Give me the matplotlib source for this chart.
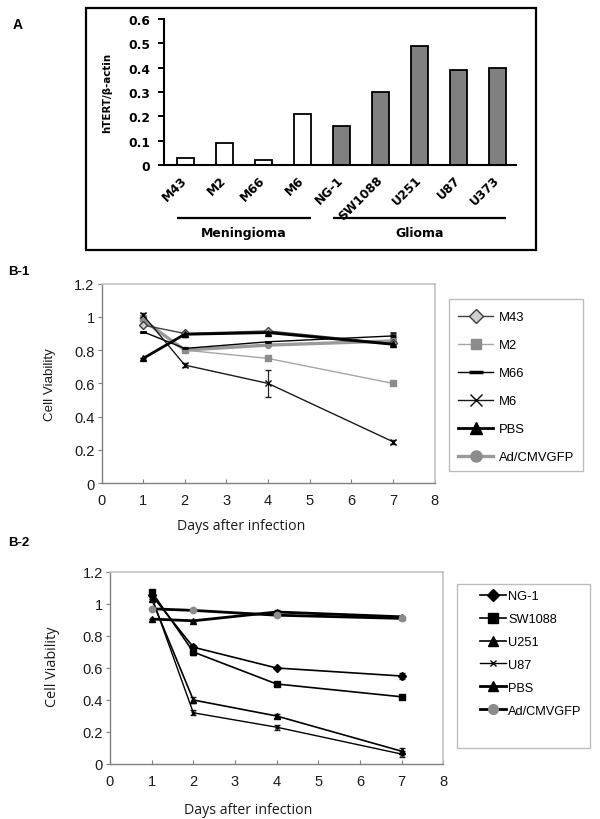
import numpy as np
import matplotlib
matplotlib.use("Agg")
import matplotlib.pyplot as plt
from matplotlib.lines import Line2D
from matplotlib.patches import Rectangle
from matplotlib.transforms import blended_transform_factory

# ---- panel A data
cell_lines = ["M43", "M2", "M66", "M6", "NG-1", "SW1088", "U251", "U87", "U373"]
htert_ratio = [0.03, 0.09, 0.02, 0.21, 0.16, 0.30, 0.49, 0.39, 0.40]
tumour_type = ["Meningioma"] * 4 + ["Glioma"] * 5
a_yticks = [0, 0.1, 0.2, 0.3, 0.4, 0.5, 0.6]

# ---- panel B data (days after infection)
days = [1, 2, 4, 7]
b_xticks = list(range(9))
b_yticks = [0, 0.2, 0.4, 0.6, 0.8, 1.0, 1.2]

# B-1 meningioma
b1_names = ["M43", "M2", "M66", "M6", "PBS", "Ad/CMVGFP"]
b1_m43 = [0.95, 0.90, 0.915, 0.84]
b1_m2 = [0.99, 0.80, 0.75, 0.60]
b1_m66 = [0.91, 0.81, 0.85, 0.885]
b1_m6 = [1.01, 0.71, 0.60, 0.25]
b1_pbs = [0.75, 0.895, 0.905, 0.835]
b1_ad = [0.98, 0.80, 0.83, 0.855]
b1_m6_err = [0.015, 0.01, 0.08, 0.012]
b1_m66_err = [0.0, 0.0, 0.0, 0.02]
b1_pbs_err = [0.0, 0.015, 0.0, 0.0]

# B-2 glioma
b2_names = ["NG-1", "SW1088", "U251", "U87", "PBS", "Ad/CMVGFP"]
b2_ng1 = [1.055, 0.73, 0.60, 0.55]
b2_sw1088 = [1.077, 0.70, 0.50, 0.42]
b2_u251 = [1.03, 0.40, 0.30, 0.08]
b2_u87 = [1.045, 0.32, 0.23, 0.062]
b2_pbs = [0.906, 0.895, 0.95, 0.92]
b2_ad = [0.97, 0.96, 0.93, 0.91]
b2_ng1_err = [0.0, 0.012, 0.0, 0.02]
b2_sw1088_err = [0.0, 0.02, 0.0, 0.0]
b2_u251_err = [0.0, 0.02, 0.015, 0.02]
b2_u87_err = [0.0, 0.015, 0.015, 0.02]
b2_pbs_err = [0.0, 0.0, 0.012, 0.0]

W, H = 600, 820
fig = plt.figure(figsize=(6, 8.2), dpi=100)


def fx(px):
    return px / W


def fy(py):
    return 1 - py / H


def rect(x0, y0, x1, y1):
    # pixel box (top-left origin) -> figure fraction [l, b, w, h]
    return [fx(x0), fy(y1), (x1 - x0) / W, (y1 - y0) / H]


def tick_fmt(v):
    return "%g" % v


# ================= Panel A =================
fig.add_artist(Rectangle((fx(86), fy(250.7)), 450 / W, 241.4 / H,
                         transform=fig.transFigure, fill=False,
                         edgecolor="black", linewidth=1.6))
axa = fig.add_axes(rect(164, 20, 516, 166))
x = np.arange(len(cell_lines))
colors = ["white" if t == "Meningioma" else "#808080" for t in tumour_type]
bw = 0.45
axa.bar(x, htert_ratio, bw, color=colors, edgecolor="black", linewidth=1.3)
axa.set_xlim(-0.55, len(cell_lines) - 0.53)
axa.set_ylim(0, 0.6)
axa.set_yticks(a_yticks)
axa.set_yticklabels([tick_fmt(v) for v in a_yticks])
axa.set_xticks(x)
axa.set_xticklabels(cell_lines, rotation=45, ha="right", va="center",
                    rotation_mode="anchor")
for lab in axa.get_xticklabels() + axa.get_yticklabels():
    lab.set_fontfamily("DejaVu Sans")
    lab.set_fontweight("bold")
    lab.set_fontsize(8.8)
axa.tick_params(axis="x", length=0, pad=9)
axa.tick_params(axis="y", length=4, width=1.4, pad=6, direction="out")
for s in ["top", "right"]:
    axa.spines[s].set_visible(False)
for s in ["left", "bottom"]:
    axa.spines[s].set_linewidth(1.5)
axa.set_ylabel("hTERT/\u03b2-actin", fontfamily="DejaVu Sans",
               fontweight="bold", fontsize=7.4)
axa.yaxis.set_label_coords(-0.148, 0.5)

trans = blended_transform_factory(axa.transData, axa.transAxes)
for grp in ["Meningioma", "Glioma"]:
    idx = [i for i, t in enumerate(tumour_type) if t == grp]
    x0, x1 = idx[0] - bw / 2, idx[-1] + bw / 2
    axa.plot([x0, x1], [-0.363, -0.363], transform=trans, color="black",
             linewidth=1.6, clip_on=False, solid_capstyle="butt")
    axa.text((x0 + x1) / 2, -0.461, grp, transform=trans, ha="center",
             va="center", fontfamily="DejaVu Sans", fontweight="bold",
             fontsize=9)

fig.text(fx(13), fy(25), "A", fontfamily="Liberation Sans",
         fontweight="bold", fontsize=10, ha="left", va="center")


# ================= Panel B helpers =================
def style_b(ax):
    ax.set_xlim(0, 8)
    ax.set_ylim(0, 1.2)
    ax.set_xticks(b_xticks)
    ax.set_yticks(b_yticks)
    ax.set_yticklabels([tick_fmt(v) for v in b_yticks])
    for lab in ax.get_xticklabels() + ax.get_yticklabels():
        lab.set_fontfamily("Liberation Sans")
        lab.set_fontsize(10.5)
        lab.set_color("#1a1a1a")
    ax.tick_params(axis="x", direction="in", length=3, width=0.8,
                   color="#808080", pad=7)
    ax.tick_params(axis="y", direction="out", length=3, width=0.8,
                   color="#808080", pad=2)
    for s in ["left", "bottom"]:
        ax.spines[s].set_color("#808080")
        ax.spines[s].set_linewidth(1.0)
    for s in ["top", "right"]:
        ax.spines[s].set_color("#c4c4c4")
        ax.spines[s].set_linewidth(1.2)


def series(ax, y, err, color, lw, marker, ms, mfc, mec, mew=1.0, z=3):
    ax.errorbar(days, y, yerr=err, color=color, linewidth=lw, marker=marker,
                markersize=ms, markerfacecolor=mfc, markeredgecolor=mec,
                markeredgewidth=mew, ecolor="#222222", elinewidth=0.9,
                capsize=2.5, capthick=0.9, zorder=z)


def legend_box(ax, names, styles, box, anchor, fs, spacing, hlen, tpad):
    handles = []
    for (color, lw, marker, ms, mfc, mec, mew) in styles:
        handles.append(Line2D([], [], color=color, linewidth=lw,
                              marker=marker, markersize=ms,
                              markerfacecolor=mfc, markeredgecolor=mec,
                              markeredgewidth=mew))
    fig.add_artist(Rectangle((fx(box[0]), fy(box[3])),
                             (box[2] - box[0]) / W, (box[3] - box[1]) / H,
                             transform=fig.transFigure, fill=False,
                             edgecolor="#bdbdbd", linewidth=1.0))
    ax.legend(handles, names, loc="upper left",
              bbox_to_anchor=(fx(anchor[0]), fy(anchor[1])),
              bbox_transform=fig.transFigure, frameon=False, borderpad=0,
              borderaxespad=0, labelspacing=spacing, handlelength=hlen,
              handletextpad=tpad,
              prop={"family": "Liberation Sans", "size": fs})


# ================= Panel B-1 =================
ax1 = fig.add_axes(rect(101.5, 284.5, 434.5, 484.3))
style_b(ax1)
series(ax1, b1_m2, None, "#a6a6a6", 1.0, "s", 4.2, "#8c8c8c", "#8c8c8c")
series(ax1, b1_ad, None, "#9a9a9a", 2.4, "o", 4.2, "#8c8c8c", "#8c8c8c")
series(ax1, b1_m43, None, "#404040", 1.0, "D", 3.8, "#cfcfcf", "#404040")
series(ax1, b1_m66, b1_m66_err, "black", 1.0, "_", 5, "black", "black", 2.0)
series(ax1, b1_m6, b1_m6_err, "#1a1a1a", 1.0, "x", 5, "black", "black")
series(ax1, b1_pbs, b1_pbs_err, "black", 2.0, "^", 5, "black", "black")
ax1.set_ylabel("Cell Viability", fontfamily="Liberation Sans", fontsize=9.6,
               color="#1a1a1a")
ax1.yaxis.set_label_coords(-0.137, 0.497)
ax1.set_xlabel("Days after infection", fontfamily="Open Sans", fontsize=10.2,
               color="#1a1a1a")
ax1.xaxis.set_label_coords(0.419, -0.173)
b1_styles = [
    ("#404040", 1.0, "D", 7.5, "#cfcfcf", "#404040", 1.0),
    ("#a6a6a6", 1.0, "s", 7.5, "#8c8c8c", "#8c8c8c", 1.0),
    ("black", 1.0, "_", 10, "black", "black", 2.5),
    ("#1a1a1a", 1.0, "x", 9, "black", "black", 1.0),
    ("black", 2.0, "^", 8.5, "black", "black", 1.0),
    ("#9a9a9a", 2.4, "o", 8, "#8c8c8c", "#8c8c8c", 1.0),
]
legend_box(ax1, b1_names, b1_styles, (449, 300, 583, 472), (458, 312),
           9.4, 1.22, 2.7, 0.4)
fig.text(fx(8), fy(272), "B-1", fontfamily="Liberation Sans",
         fontweight="bold", fontsize=9.5, ha="left", va="center")

# ================= Panel B-2 =================
ax2 = fig.add_axes(rect(110, 573, 443.3, 765))
style_b(ax2)
series(ax2, b2_ng1, b2_ng1_err, "black", 1.2, "D", 3.8, "black", "black")
series(ax2, b2_sw1088, b2_sw1088_err, "black", 1.2, "s", 4.5, "black", "black")
series(ax2, b2_u251, b2_u251_err, "black", 1.2, "^", 4.8, "black", "black")
series(ax2, b2_u87, b2_u87_err, "black", 1.0, "x", 3.5, "black", "black")
series(ax2, b2_pbs, b2_pbs_err, "black", 2.0, "^", 5, "black", "black")
series(ax2, b2_ad, None, "black", 2.0, "o", 4.6, "#8c8c8c", "#8c8c8c")
ax2.set_ylabel("Cell Viability", fontfamily="Open Sans", fontsize=10.4,
               color="#1a1a1a")
ax2.yaxis.set_label_coords(-0.151, 0.512)
ax2.set_xlabel("Days after infection", fontfamily="Open Sans", fontsize=10.2,
               color="#1a1a1a")
ax2.xaxis.set_label_coords(0.416, -0.2)
b2_styles = [
    ("black", 1.2, "D", 6, "black", "black", 1.0),
    ("black", 1.2, "s", 6.5, "black", "black", 1.0),
    ("black", 1.2, "^", 7, "black", "black", 1.0),
    ("black", 1.0, "x", 4.5, "black", "black", 1.0),
    ("black", 2.0, "^", 7, "black", "black", 1.0),
    ("black", 2.0, "o", 7, "#8c8c8c", "#8c8c8c", 1.0),
]
legend_box(ax2, b2_names, b2_styles, (456.7, 585, 590.3, 749.3),
           (480, 591), 9.2, 0.86, 2.05, 0.15)
fig.text(fx(8), fy(543), "B-2", fontfamily="Liberation Sans",
         fontweight="bold", fontsize=9.5, ha="left", va="center")

fig.savefig("out.png", dpi=100, facecolor="white")
